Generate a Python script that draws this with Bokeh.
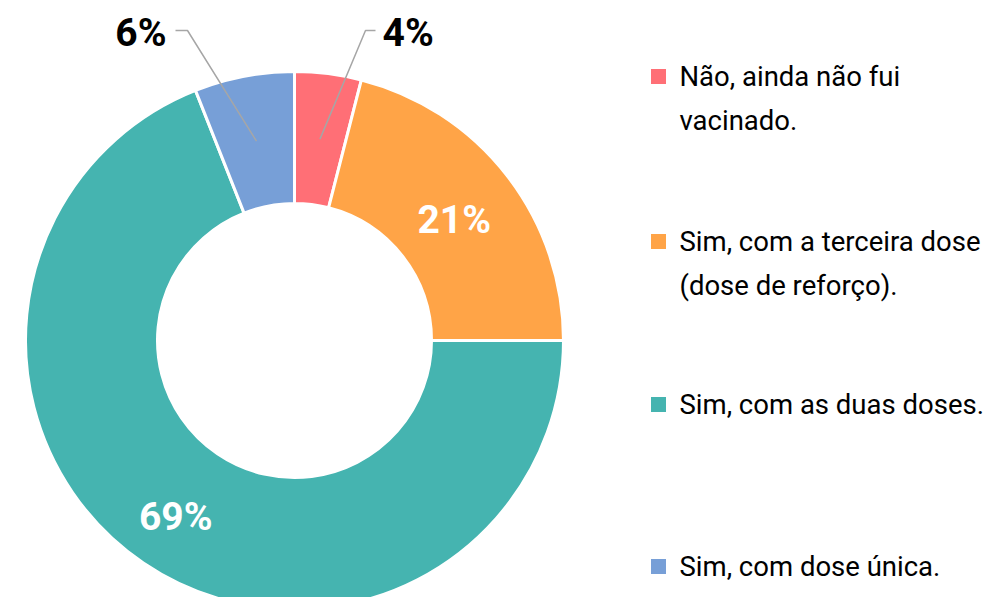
import math
from bokeh.plotting import figure
from bokeh.models import Range1d, ColumnDataSource
from bokeh.core.properties import value
from bokeh.embed import file_html
from bokeh.resources import INLINE

categories = ["Não, ainda não fui\nvacinado.",
              "Sim, com a terceira dose\n(dose de reforço).",
              "Sim, com as duas doses.",
              "Sim, com dose única."]
values = [4, 21, 69, 6]
colors = ["#FF6F76", "#FFA447", "#45B4B0", "#779FD7"]

W, H = 991, 597
def X(px): return px
def Y(py): return H - py

p = figure(width=W, height=H, output_backend="svg", toolbar_location=None,
           x_range=Range1d(0, W), y_range=Range1d(0, H), min_border=0)
p.axis.visible = False
p.grid.visible = False
p.outline_line_color = None

cx, cy = X(294), Y(340)
r_out, r_in = 269, 137
total = sum(values)
starts, ends, mids = [], [], []
cum = 0
for v in values:
    a0 = math.radians(90 - cum / total * 360)
    cum += v
    a1 = math.radians(90 - cum / total * 360)
    starts.append(a0); ends.append(a1); mids.append((a0 + a1) / 2)

src = ColumnDataSource(dict(start=starts, end=ends, color=colors))
p.annular_wedge(x=cx, y=cy, inner_radius=r_in, outer_radius=r_out,
                start_angle="start", end_angle="end", direction="clock",
                fill_color="color", line_color="white", line_width=3, source=src)

font = value("Roboto")
labels = [f"{v}%" for v in values]

# inside labels (21%, 69%)
rm = 206
for i in (1, 2):
    p.text(x=[cx + rm * math.cos(mids[i]) - 3], y=[cy + rm * math.sin(mids[i]) - 6],
           text=[labels[i]], text_font=font, text_font_style="bold",
           text_font_size="39px", text_color="white",
           text_align="center", text_baseline="middle")

# outside labels with leaders (4%, 6%)
lead_y = Y(30)
m = mids[0]
x0, y0 = cx + 203 * math.cos(m), cy + 203 * math.sin(m)
p.line(x=[x0, X(365), X(375)], y=[y0, lead_y, lead_y], line_color="#A6A6A6", line_width=1.5)
p.text(x=[X(382)], y=[Y(32)], text=[labels[0]], text_font=font, text_font_style="bold",
       text_font_size="39px", text_color="black", text_align="left", text_baseline="middle")
m = mids[3]
x0, y0 = cx + 203 * math.cos(m), cy + 203 * math.sin(m)
p.line(x=[x0, X(187), X(175)], y=[y0, lead_y, lead_y], line_color="#A6A6A6", line_width=1.5)
p.text(x=[X(166)], y=[Y(32)], text=[labels[3]], text_font=font, text_font_style="bold",
       text_font_size="39px", text_color="black", text_align="right", text_baseline="middle")

# legend
leg_y = [76, 241, 404, 566]
p.scatter(x=[X(658)] * 4, y=[Y(v) for v in leg_y], marker="square", size=15,
          fill_color=colors, line_color=None)
for cat, ly in zip(categories, leg_y):
    for j, line in enumerate(cat.split("\n")):
        p.text(x=[X(679)], y=[Y(ly + j * 44)], text=[line], text_font=font,
               text_font_size="27.5px", text_color="black",
               text_align="left", text_baseline="middle")

open("out.html", "w").write(file_html(p, INLINE))
